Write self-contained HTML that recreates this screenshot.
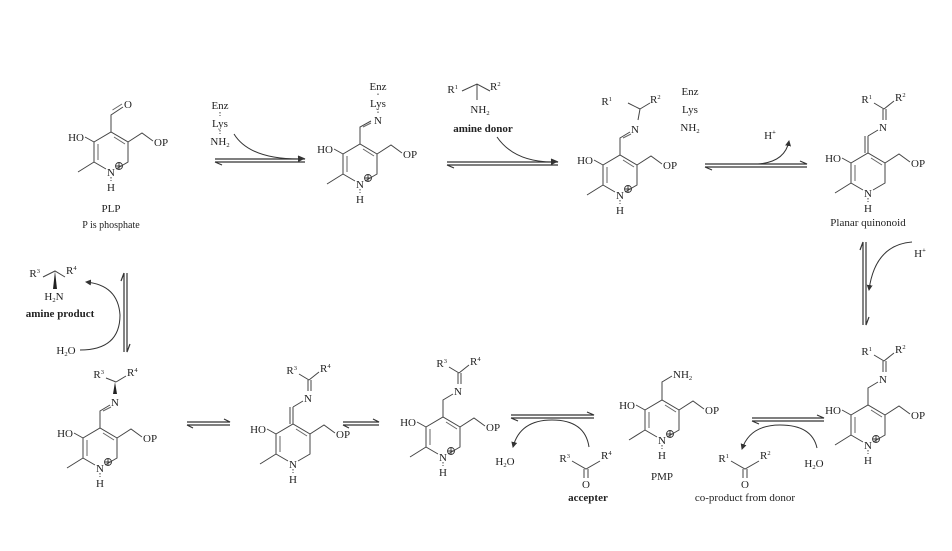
<!DOCTYPE html>
<html><head><meta charset="utf-8"><style>
html,body{margin:0;padding:0;background:#fff;}
svg{display:block;}
text{font-family:"Liberation Serif",serif;font-size:11px;fill:#222;}
.b{font-weight:bold;}
.s{font-size:6.5px;}
</style></head><body>
<svg width="952" height="551" viewBox="0 0 952 551" xmlns="http://www.w3.org/2000/svg">
<defs>
<g id="ring" stroke="#444" stroke-width="1" fill="none">
  <path d="M-5,37 L-17,30 L-17,10 L0,0 L17,10 L17,30 L5,37"/>
  <path d="M-13,12 L-13,28 M3,5 L14,12" stroke="#666"/>
  <path d="M-17,10 L-26,5 M-17,30 L-33,40 M17,10 L31,1 L42,9"/>
  <path d="M0,45 L0,49" stroke-dasharray="1.5,1.5"/>
</g>
<g id="lab">
  <text x="-27" y="9" text-anchor="end">HO</text>
  <text x="43" y="14">OP</text>
  <text x="0" y="44" text-anchor="middle">N</text>
  <text x="0" y="59" text-anchor="middle">H</text>
</g>
<g id="plus"><circle cx="8" cy="34" r="3.5" fill="none" stroke="#333" stroke-width="0.9"/><path d="M5,34 H11 M8,31 V37" stroke="#333" stroke-width="0.9"/></g>
<marker id="ah" markerWidth="6" markerHeight="6" refX="5" refY="3" orient="auto"><path d="M0,0 L6,3 L0,6 Z" fill="#333"/></marker>
</defs>

<!-- PLP -->
<g transform="translate(111,132)">
 <use href="#ring"/><use href="#lab"/><use href="#plus"/>
 <path d="M0,0 V-17 L12,-25" stroke="#444" fill="none"/>
 <path d="M1.5,-22 L11,-28" stroke="#666" fill="none"/>
 <text x="13" y="-24">O</text>
 <text x="0" y="80" text-anchor="middle">PLP</text>
 <text x="0" y="96" text-anchor="middle" style="font-size:10px">P is phosphate</text>
</g>

<!-- mol2 -->
<g transform="translate(360,144)">
 <use href="#ring"/><use href="#lab"/><use href="#plus"/>
 <path d="M0,0 V-17 L11,-23" stroke="#444" fill="none"/>
 <path d="M3,-17 L11,-21" stroke="#666" fill="none"/>
 <text x="18" y="-20" text-anchor="middle">N</text>
 <path d="M18,-31 V-35" stroke="#444" stroke-dasharray="1.5,1.5"/>
 <text x="18" y="-37" text-anchor="middle">Lys</text>
 <path d="M18,-49 V-52" stroke="#444" stroke-dasharray="1.5,1.5"/>
 <text x="18" y="-54" text-anchor="middle">Enz</text>
</g>

<!-- mol3 -->
<g transform="translate(620,155)">
 <use href="#ring"/><use href="#lab"/><use href="#plus"/>
 <path d="M0,0 V-17 L10,-23" stroke="#444" fill="none"/>
 <path d="M3,-17 L11,-21" stroke="#666" fill="none"/>
 <text x="15" y="-22" text-anchor="middle">N</text>
 <path d="M18,-35 L20,-46 L30,-52 M20,-46 L8,-52" stroke="#444" fill="none"/>
 <text x="-8" y="-50" text-anchor="end">R<tspan class="s" dy="-4">1</tspan></text>
 <text x="30" y="-52">R<tspan class="s" dy="-4">2</tspan></text>
</g>
<text x="690" y="95" text-anchor="middle">Enz</text>
<text x="690" y="113" text-anchor="middle">Lys</text>
<text x="690" y="131" text-anchor="middle">NH<tspan class="s" dy="2">2</tspan></text>

<!-- mol4 planar quinonoid -->
<g transform="translate(868,153)">
 <use href="#ring"/><use href="#lab"/>
 <path d="M0,0 V-17 M-3,0 V-17 M0,-17 L10,-23" stroke="#444" fill="none"/>
 <text x="15" y="-22" text-anchor="middle">N</text>
 <path d="M15,-33 V-44 M18,-33 V-44 M16,-44 L26,-52 M16,-44 L6,-50" stroke="#444" fill="none"/>
 <text x="4" y="-50" text-anchor="end">R<tspan class="s" dy="-4">1</tspan></text>
 <text x="27" y="-52">R<tspan class="s" dy="-4">2</tspan></text>
 <text x="0" y="73" text-anchor="middle">Planar quinonoid</text>
</g>

<!-- mol5 -->
<g transform="translate(868,405)">
 <use href="#ring"/><use href="#lab"/><use href="#plus"/>
 <path d="M0,0 V-17 L10,-23" stroke="#444" fill="none"/>
 <text x="15" y="-22" text-anchor="middle">N</text>
 <path d="M15,-33 V-44 M18,-33 V-44 M16,-44 L26,-52 M16,-44 L6,-50" stroke="#444" fill="none"/>
 <text x="4" y="-50" text-anchor="end">R<tspan class="s" dy="-4">1</tspan></text>
 <text x="27" y="-52">R<tspan class="s" dy="-4">2</tspan></text>
</g>

<!-- PMP -->
<g transform="translate(662,400)">
 <use href="#ring"/><use href="#lab"/><use href="#plus"/>
 <path d="M0,0 V-18 L10,-24" stroke="#444" fill="none"/>
 <text x="11" y="-22">NH<tspan class="s" dy="2">2</tspan></text>
 <text x="0" y="80" text-anchor="middle">PMP</text>
</g>

<!-- mol6 -->
<g transform="translate(443,417)">
 <use href="#ring"/><use href="#lab"/><use href="#plus"/>
 <path d="M0,0 V-17 L10,-23" stroke="#444" fill="none"/>
 <text x="15" y="-22" text-anchor="middle">N</text>
 <path d="M15,-33 V-44 M18,-33 V-44 M16,-44 L26,-52 M16,-44 L6,-50" stroke="#444" fill="none"/>
 <text x="4" y="-50" text-anchor="end">R<tspan class="s" dy="-4">3</tspan></text>
 <text x="27" y="-52">R<tspan class="s" dy="-4">4</tspan></text>
</g>

<!-- mol7 -->
<g transform="translate(293,424)">
 <use href="#ring"/><use href="#lab"/>
 <path d="M0,0 V-17 M-3,0 V-17 M0,-17 L10,-23" stroke="#444" fill="none"/>
 <text x="15" y="-22" text-anchor="middle">N</text>
 <path d="M15,-33 V-44 M18,-33 V-44 M16,-44 L26,-52 M16,-44 L6,-50" stroke="#444" fill="none"/>
 <text x="4" y="-50" text-anchor="end">R<tspan class="s" dy="-4">3</tspan></text>
 <text x="27" y="-52">R<tspan class="s" dy="-4">4</tspan></text>
</g>

<!-- mol8 -->
<g transform="translate(100,428)">
 <use href="#ring"/><use href="#lab"/><use href="#plus"/>
 <path d="M0,0 V-17 L10,-23" stroke="#444" fill="none"/>
 <path d="M3,-17 L11,-21" stroke="#666" fill="none"/>
 <text x="15" y="-22" text-anchor="middle">N</text>
 <path d="M13,-34 L15,-46 L17,-34 Z" fill="#222"/>
 <path d="M16,-46 L26,-52 M16,-46 L6,-50" stroke="#444" fill="none"/>
 <text x="4" y="-50" text-anchor="end">R<tspan class="s" dy="-4">3</tspan></text>
 <text x="27" y="-52">R<tspan class="s" dy="-4">4</tspan></text>
</g>

<!-- amine product -->
<path d="M43,277 L55,271 L65,277" stroke="#444" fill="none"/>
<path d="M53,289 L55,271 L57,289 Z" fill="#222"/>
<text x="40" y="277" text-anchor="end">R<tspan class="s" dy="-4">3</tspan></text>
<text x="66" y="274">R<tspan class="s" dy="-4">4</tspan></text>
<text x="54" y="300" text-anchor="middle">H<tspan class="s" dy="2">2</tspan><tspan dy="-2">N</tspan></text>
<text x="60" y="317" text-anchor="middle" class="b">amine product</text>
<text x="66" y="354" text-anchor="middle">H<tspan class="s" dy="2">2</tspan><tspan dy="-2">O</tspan></text>

<!-- Enz-Lys-NH2 reagent -->
<text x="220" y="109" text-anchor="middle">Enz</text>
<path d="M220,112 V116" stroke="#444" stroke-dasharray="1.5,1.5"/>
<text x="220" y="127" text-anchor="middle">Lys</text>
<path d="M220,130 V134" stroke="#444" stroke-dasharray="1.5,1.5"/>
<text x="220" y="145" text-anchor="middle">NH<tspan class="s" dy="2">2</tspan></text>

<!-- amine donor -->
<path d="M462,91 L477,84 L490,91 M477,84 V100" stroke="#444" fill="none"/>
<text x="458" y="93" text-anchor="end">R<tspan class="s" dy="-4">1</tspan></text>
<text x="490" y="90">R<tspan class="s" dy="-4">2</tspan></text>
<text x="480" y="113" text-anchor="middle">NH<tspan class="s" dy="2">2</tspan></text>
<text x="483" y="132" text-anchor="middle" class="b">amine donor</text>

<text x="770" y="139" text-anchor="middle">H<tspan class="s" dy="-5" style="font-weight:bold">+</tspan></text>
<text x="920" y="257" text-anchor="middle">H<tspan class="s" dy="-5" style="font-weight:bold">+</tspan></text>

<!-- accepter -->
<path d="M572,461 L586,469 L600,461 M584,469 V478 M588,469 V478" stroke="#444" fill="none"/>
<text x="570" y="462" text-anchor="end">R<tspan class="s" dy="-4">3</tspan></text>
<text x="601" y="459">R<tspan class="s" dy="-4">4</tspan></text>
<text x="586" y="488" text-anchor="middle">O</text>
<text x="588" y="501" text-anchor="middle" class="b">accepter</text>
<text x="505" y="465" text-anchor="middle">H<tspan class="s" dy="2">2</tspan><tspan dy="-2">O</tspan></text>

<!-- co-product -->
<path d="M731,461 L745,469 L759,461 M743,469 V478 M747,469 V478" stroke="#444" fill="none"/>
<text x="729" y="462" text-anchor="end">R<tspan class="s" dy="-4">1</tspan></text>
<text x="760" y="459">R<tspan class="s" dy="-4">2</tspan></text>
<text x="745" y="488" text-anchor="middle">O</text>
<text x="745" y="501" text-anchor="middle">co-product from donor</text>
<text x="814" y="467" text-anchor="middle">H<tspan class="s" dy="2">2</tspan><tspan dy="-2">O</tspan></text>

<!-- equilibrium arrows -->
<g stroke="#333" stroke-width="1.2" fill="none">
 <path d="M215,159 H305 L298,156"/><path d="M215,162 H305 M215,162 L222,165"/>
 <path d="M447,162 H558 L551,159"/><path d="M447,165 H558 M447,165 L454,168"/>
 <path d="M705,164 H807 L800,161"/><path d="M705,167 H807 M705,167 L712,170"/>
 <path d="M863,242 V325 M863,242 L860,250"/><path d="M866,242 V325 L869,317"/>
 <path d="M124,273 V352 M124,273 L121,281"/><path d="M127,273 V352 L130,344"/>
 <path d="M187,422 H230 L224,419"/><path d="M187,425 H230 M187,425 L193,428"/>
 <path d="M343,422 H379 L373,419"/><path d="M343,425 H379 M343,425 L349,428"/>
 <path d="M511,415 H594 L587,412"/><path d="M511,418 H594 M511,418 L518,421"/>
 <path d="M752,418 H824 L817,415"/><path d="M752,421 H824 M752,421 L759,424"/>
</g>
<!-- curved arrows -->
<g stroke="#333" stroke-width="1" fill="none">
 <path d="M234,134 Q250,160 303,159" marker-end="url(#ah)"/>
 <path d="M497,137 Q515,163 556,162" marker-end="url(#ah)"/>
 <path d="M758,164 Q785,162 789,141" marker-end="url(#ah)"/>
 <path d="M912,242 Q875,245 869,290" marker-end="url(#ah)"/>
 <path d="M80,350 Q120,350 120,315 Q118,285 86,282" marker-end="url(#ah)"/>
 <path d="M589,447 Q585,420 552,420 Q520,420 513,447" marker-end="url(#ah)"/>
 <path d="M817,448 Q812,425 780,425 Q750,425 742,449" marker-end="url(#ah)"/>
</g>
</svg>
</body></html>
